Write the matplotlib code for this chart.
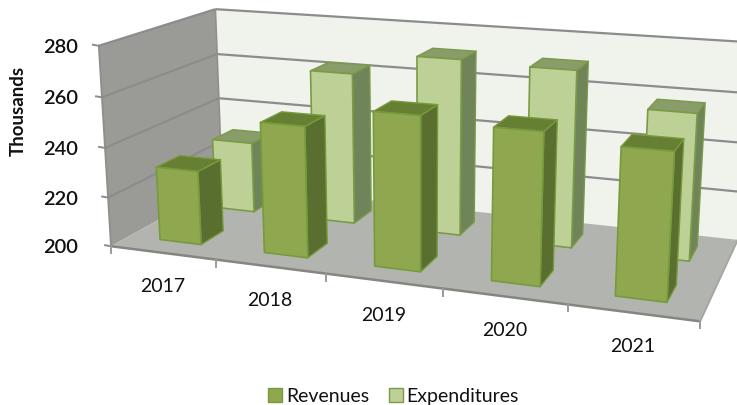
import numpy as np
import matplotlib
matplotlib.use("Agg")
import matplotlib.pyplot as plt
from matplotlib.patches import Polygon, Patch

plt.rcParams['font.family'] = ['Lato', 'DejaVu Sans']

categories = ['2017', '2018', '2019', '2020', '2021']
revenues = [230, 252, 260, 258, 255]
expenditures = [230, 263, 272, 271, 258]
z_ticks = [200, 220, 240, 260, 280]
ZMIN, ZMAX = 200, 280

# camera calibration: scene anchor (cat, depth, value) -> figure pixel
anchors = [
    ((0, 0, 200), (111.7, 246.7)), ((0, 2, 200), (221.5, 186.0)),
    ((0, 2, 280), (216.0, 10.0)), ((5, 2, 280), (750.0, 43.5)),
    ((5, 2, 200), (738.0, 240.0)), ((5, 0, 200), (700.0, 323.0)),
    ((0, 0, 280), (98.3, 46.7)),
]
def solve_camera(pairs):
    rows = []
    for (x, y, z), (u, v) in pairs:
        w = (z - ZMIN) / (ZMAX - ZMIN)
        rows.append([x, y, w, 1, 0, 0, 0, 0, -u*x, -u*y, -u*w, -u])
        rows.append([0, 0, 0, 0, x, y, w, 1, -v*x, -v*y, -v*w, -v])
    return np.linalg.svd(np.array(rows))[2][-1].reshape(3, 4)
P = solve_camera(anchors)
def pr(x, y, z):
    q = P @ np.array([x, y, (z - ZMIN) / (ZMAX - ZMIN), 1.0])
    return (q[0] / q[2], q[1] / q[2])

fig = plt.figure(figsize=(7.37, 4.06), dpi=100)
ax = fig.add_axes([0, 0, 1, 1])
ax.set_xlim(0, 737); ax.set_ylim(406, 0); ax.axis('off')

def poly(pts, fc, ec='none', lw=0, z=1):
    ax.add_patch(Polygon([pr(*p) for p in pts], closed=True, fc=fc, ec=ec, lw=lw, zorder=z, joinstyle='round'))
def seg(a, b, c='#8c8c8c', lw=1.6, z=2):
    pa, pb = pr(*a), pr(*b)
    ax.plot([pa[0], pb[0]], [pa[1], pb[1]], color=c, lw=lw, zorder=z, solid_capstyle='butt')

X = len(categories)
poly([(0,0,ZMIN),(0,2,ZMIN),(0,2,ZMAX),(0,0,ZMAX)], '#9a9b97')
poly([(0,2,ZMIN),(X,2,ZMIN),(X,2,ZMAX),(0,2,ZMAX)], '#eff3ec')
poly([(0,0,ZMIN),(X,0,ZMIN),(X,2,ZMIN),(0,2,ZMIN)], '#b2b5af')
for t in z_ticks[1:]:
    seg((0,0,t),(0,2,t))
    seg((0,2,t),(X,2,t))
seg((0,0,ZMIN),(0,0,ZMAX), '#8f908c', 1.4)
seg((0,2,ZMIN),(0,2,ZMAX), '#8f908c', 1.2)
seg((0,0,ZMIN),(X,0,ZMIN), '#85867f', 1.8)
seg((X,0,ZMIN),(X,2,ZMIN), '#a5a6a0', 1.4)

for t in z_ticks:
    u, v = pr(0, 0, t)
    ax.plot([u-6, u], [v-1, v], color='#8c8c8c', lw=1.4, zorder=2)
    ax.text(78, v+0.5, str(t), ha='right', va='center', fontsize=14.5, fontweight='semibold', color='#111111')
for i in range(X+1):
    u, v = pr(i, 0, ZMIN)
    ax.plot([u, u], [v, v+7], color='#9a9a9a', lw=1.4, zorder=2)
for i, c in enumerate(categories):
    u, v = pr(i+0.5, 0, ZMIN)
    ax.text(u, v+33, c, ha='center', va='center', fontsize=14, color='#111111')
ax.text(18, 111, 'Thousands', rotation=90, ha='center', va='center', fontsize=13.5, fontweight='bold', color='#111111')

G = 0.3; DG = 0.3
def bar(i, row, val, front, side, top, edge, z):
    x0, x1 = i+G, i+1-G
    y0, y1 = row+DG, row+1-DG
    poly([(x0,y0,ZMIN),(x1,y0,ZMIN),(x1,y0,val),(x0,y0,val)], front, edge, 1.2, z+0.2)
    poly([(x1,y0,ZMIN),(x1,y1,ZMIN),(x1,y1,val),(x1,y0,val)], side, edge, 1.0, z+0.1)
    poly([(x0,y0,val),(x1,y0,val),(x1,y1,val),(x0,y1,val)], top, edge, 1.0, z+0.1)

for i, v in enumerate(expenditures):
    bar(i, 1, v, '#bdd196', '#6f8459', '#8a9c6a', '#7a9a48', 3+i*0.5)
for i, v in enumerate(revenues):
    bar(i, 0, v, '#8fa74f', '#5a6e2f', '#667f32', '#779a3c', 8+i*0.5)

fig.legend(handles=[Patch(fc='#8fa74f', ec='#779a3c', label='Revenues'),
                    Patch(fc='#bdd196', ec='#7a9a48', label='Expenditures')],
           loc='center', bbox_to_anchor=(393.5/737, 1-397/406), ncol=2, frameon=False,
           fontsize=14, handlelength=0.72, handleheight=0.72, handletextpad=0.2, columnspacing=1.0,
           labelcolor='#111111')
fig.savefig('out.png', dpi=100)
